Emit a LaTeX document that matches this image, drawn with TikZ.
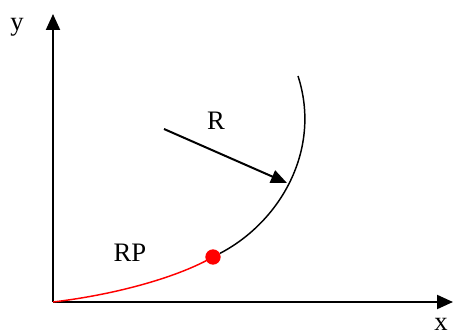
\documentclass[tikz,border=0pt]{standalone}
\usepackage{fontspec}
\setmainfont{Liberation Serif}
\usetikzlibrary{arrows.meta,positioning}
\tikzset{
  axis/.style={-{Triangle[length=12pt,width=10.5pt]},line width=1.5pt},
  lbl/.style={font=\fontsize{20}{24}\selectfont,inner sep=0pt,anchor=base},
}
\begin{document}
\begin{tikzpicture}[x=0.75pt,y=-0.75pt]
  \useasboundingbox (0,0) rectangle (453,334);
  % axes
  \coordinate (o) at (53,302);
  \coordinate (xend) at (453,302);
  \coordinate (yend) at (53,14);
  \draw[axis] (o) -- (xend);
  \draw[axis] (o) -- (yend);
  \node[lbl] (ylab) at (17,31) {y};
  \node[lbl] (xlab) at (441,330) {x};
  % red part up to the point, then the black arc
  \node[circle,fill=red,inner sep=0pt,minimum size=11.5pt] (pt) at (213,257) {};
  \coordinate (top) at (298,76);
  \draw[red,line width=1.1pt] (o) .. controls (120,294) and (180,276) .. (pt.center);
  \draw[line width=1.1pt] (pt) .. controls (280,222) and (322,150) .. (top);
  % radius arrow
  \coordinate (rs) at (164,129);
  \coordinate (re) at (287,183);
  \draw[-{Triangle[length=12pt,width=10pt]},line width=1.5pt] (rs) -- (re);
  \node[lbl] (rlab) at (216,130) {R};
  \node[lbl] (rplab) at (130,262) {RP};
\end{tikzpicture}
\end{document}
